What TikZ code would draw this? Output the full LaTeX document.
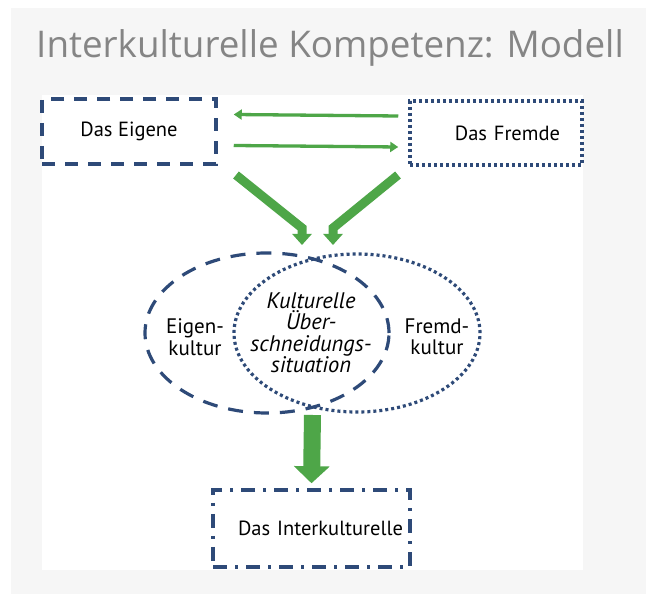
\documentclass[tikz,border=0pt]{standalone}
\usepackage{fontspec}
\setmainfont{PT Sans}
\newfontfamily\headfont{Open Sans}
\usepackage{tikz}
\usetikzlibrary{arrows.meta,shapes.geometric,positioning}
\definecolor{boxblue}{HTML}{2E4A78}
\definecolor{arrgreen}{HTML}{4EA648}
\definecolor{panelgray}{HTML}{F6F6F6}
\definecolor{headgray}{HTML}{858585}

\begin{document}
\begin{tikzpicture}[x=1pt,y=1pt,
  box/.style={rectangle,draw=boxblue,line width=3.5pt,font=\fontsize{20.5}{24}\selectfont},
  oval/.style={ellipse,draw=boxblue,line width=3.2pt},
  thinarr/.style={draw=arrgreen,line width=3.3pt,-{Triangle[length=8pt,width=10pt]}},
  bigarr/.style={draw=arrgreen,line width=9pt,-{Triangle[length=11pt,width=19pt]}}]
  \useasboundingbox (0,0) rectangle (646,594);
  \fill[panelgray] (11,0) rectangle (646,586);
  \fill[white] (42,24) rectangle (583,499);
  \node[text=headgray,font=\headfont\fontsize{36.8}{44}\selectfont] (title) at (330,546) {Interkulturelle Kompetenz: Modell};

  \node[box,dash pattern=on 13pt off 10pt,minimum width=174pt,minimum height=65pt] (eigene) at (129,462.5) {Das Eigene};
  \node[box,dash pattern=on 3pt off 3pt,minimum width=172pt,minimum height=64pt,text width=128pt,align=right] (fremde) at (496,461) {Das Fremde};
  \draw[thinarr] ([shift={(-10,17)}]fremde.west) -- ([shift={(16,17)}]eigene.east);
  \draw[thinarr] ([shift={(16,-14)}]eigene.east) -- ([shift={(-10,-14)}]fremde.west);

  \node[oval,dash pattern=on 15pt off 11pt,minimum width=244pt,minimum height=160pt] (eigenkultur) at (267,261) {};
  \node[oval,dash pattern=on 3pt off 3pt,minimum width=246pt,minimum height=158pt] (fremdkultur) at (357,261) {};
  \node[align=center,font=\fontsize{21}{21.5}\selectfont] (eigen) at (195,257) {Eigen-\\kultur};
  \node[align=center,font=\fontsize{21}{21.5}\selectfont] (fremd) at (437,257) {Fremd-\\kultur};
  \node[align=center,font=\itshape\fontsize{22.5}{21.5}\selectfont] (ueber) at (311,261) {Kulturelle\\Über-\\schneidungs-\\situation};

  \coordinate (e1) at (236,419);
  \coordinate (e2) at (302,366);
  \coordinate (e3) at (302,349);
  \coordinate (f1) at (398,419);
  \coordinate (f2) at (333,366);
  \coordinate (f3) at (333,349);
  \draw[bigarr] (e1) -- (e2) -- (e3);
  \draw[bigarr] (f1) -- (f2) -- (f3);

  \node[box,dash pattern=on 14pt off 8pt on 3pt off 8pt,minimum width=197pt,minimum height=77pt,text width=183pt,align=right] (inter) at (311.5,65.5) {Das Interkulturelle};
  \draw[draw=arrgreen,line width=17pt,-{Triangle[length=17pt,width=35pt]}] (312.5,179) -- ([yshift=5pt]inter.north);
\end{tikzpicture}
\end{document}
